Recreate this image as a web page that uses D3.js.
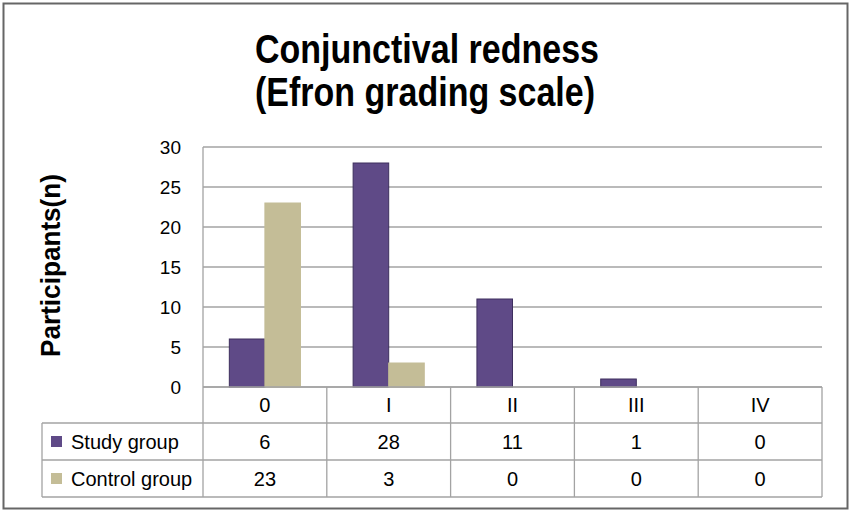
<!DOCTYPE html>
<html>
<head>
<meta charset="utf-8">
<script src="https://cdn.jsdelivr.net/npm/d3@7"></script>
<style>
  body { margin: 0; background: #fff; }
  text { font-family: "Liberation Sans", Arial, sans-serif; fill: #000; }
</style>
</head>
<body>
<svg id="chart" width="851" height="513"></svg>
<script>
// data
const grades = ["0", "I", "II", "III", "IV"];
const groups = ["Study group", "Control group"];
const studyValues = [6, 28, 11, 1, 0];
const controlValues = [23, 3, 0, 0, 0];
const yTicks = [0, 5, 10, 15, 20, 25, 30];
const groupColors = ["#5f4a87", "#c4bd97"];
const groupStrokes = ["#3e2f5e", "#c4bd97"];

const valuesByGroup = [studyValues, controlValues];

const svg = d3.select("#chart");

// outer frame
svg
  .append("rect")
  .attr("x", 3.5)
  .attr("y", 3.5)
  .attr("width", 844)
  .attr("height", 505)
  .attr("fill", "#fff")
  .attr("stroke", "#666")
  .attr("stroke-width", 2);

// title
svg
  .append("text")
  .attr("x", 427)
  .attr("y", 63)
  .attr("text-anchor", "middle")
  .attr("font-size", 41)
  .attr("font-weight", "bold")
  .attr("textLength", 344)
  .attr("lengthAdjust", "spacingAndGlyphs")
  .text("Conjunctival redness");

svg
  .append("text")
  .attr("x", 425)
  .attr("y", 106)
  .attr("text-anchor", "middle")
  .attr("font-size", 41)
  .attr("font-weight", "bold")
  .attr("textLength", 340)
  .attr("lengthAdjust", "spacingAndGlyphs")
  .text("(Efron grading scale)");

const left = 203;
const right = 822;
const x = d3.scaleBand().domain(grades).range([left, right]);
const y = d3.scaleLinear().domain([0, 30]).range([387, 147]);
const xs = d3
  .scaleBand()
  .domain(groups)
  .range([0, x.bandwidth()])
  .paddingInner(0)
  .paddingOuter(0.74);

// gridlines
svg
  .append("g")
  .selectAll("line")
  .data(yTicks)
  .join("line")
  .attr("x1", left)
  .attr("x2", right)
  .attr("y1", (d) => y(d))
  .attr("y2", (d) => y(d))
  .attr("stroke", "#a3a3a3")
  .attr("stroke-width", 1.3);

// y axis line
svg
  .append("line")
  .attr("x1", left)
  .attr("x2", left)
  .attr("y1", y(30))
  .attr("y2", y(0))
  .attr("stroke", "#a3a3a3")
  .attr("stroke-width", 1.3);

// y tick labels
svg
  .append("g")
  .selectAll("text")
  .data(yTicks)
  .join("text")
  .attr("x", 181)
  .attr("y", (d) => y(d))
  .attr("dy", "0.35em")
  .attr("text-anchor", "end")
  .attr("font-size", 19)
  .text((d) => d);

// y title
svg
  .append("text")
  .attr("transform", "translate(60,265.5) rotate(-90)")
  .attr("text-anchor", "middle")
  .attr("font-size", 28)
  .attr("font-weight", "bold")
  .attr("textLength", 183)
  .attr("lengthAdjust", "spacingAndGlyphs")
  .text("Participants(n)");

// bars
groups.forEach((g, gi) => {
  svg
    .append("g")
    .selectAll("rect")
    .data(valuesByGroup[gi].map((v, i) => ({ grade: grades[i], value: v })))
    .join("rect")
    .filter((d) => d.value > 0)
    .attr("x", (d) => x(d.grade) + xs(g))
    .attr("y", (d) => y(d.value))
    .attr("width", xs.bandwidth())
    .attr("height", (d) => y(0) - y(d.value))
    .attr("fill", groupColors[gi])
    .attr("stroke", groupStrokes[gi])
    .attr("stroke-width", 1);
});

// data table
const rowTop = 387;
const rowH = [36, 37, 37];
const tableLeft = 42;
const lineColor = "#a3a3a3";
const table = svg.append("g");

const r1 = rowTop + rowH[0];
const r2 = r1 + rowH[1];
const r3 = r2 + rowH[2];

// horizontal lines
table
  .append("line")
  .attr("x1", left).attr("x2", right)
  .attr("y1", rowTop).attr("y2", rowTop)
  .attr("stroke", lineColor).attr("stroke-width", 1.3);
[r1, r2, r3].forEach((yy) => {
  table
    .append("line")
    .attr("x1", tableLeft).attr("x2", right)
    .attr("y1", yy).attr("y2", yy)
    .attr("stroke", lineColor).attr("stroke-width", 1.3);
});

// vertical lines
table
  .append("line")
  .attr("x1", tableLeft).attr("x2", tableLeft)
  .attr("y1", r1).attr("y2", r3)
  .attr("stroke", lineColor).attr("stroke-width", 1.3);
grades.concat(["end"]).forEach((g) => {
  const xx = g === "end" ? right : x(g);
  table
    .append("line")
    .attr("x1", xx).attr("x2", xx)
    .attr("y1", rowTop).attr("y2", r3)
    .attr("stroke", lineColor).attr("stroke-width", 1.3);
});

// header labels
table
  .selectAll(".hdr")
  .data(grades)
  .join("text")
  .attr("class", "hdr")
  .attr("x", (d) => x(d) + x.bandwidth() / 2)
  .attr("y", rowTop + rowH[0] / 2)
  .attr("dy", "0.35em")
  .attr("text-anchor", "middle")
  .attr("font-size", 20)
  .text((d) => d);

// rows
const rowCenters = [r1 + rowH[1] / 2, r2 + rowH[2] / 2];
groups.forEach((g, gi) => {
  const cy = rowCenters[gi];
  table
    .append("rect")
    .attr("x", 51)
    .attr("y", cy - 5.5)
    .attr("width", 11)
    .attr("height", 11)
    .attr("fill", groupColors[gi]);
  table
    .append("text")
    .attr("x", 71)
    .attr("y", cy)
    .attr("dy", "0.35em")
    .attr("font-size", 20)
    .text(g);
  table
    .selectAll(".val" + gi)
    .data(valuesByGroup[gi])
    .join("text")
    .attr("x", (d, i) => x(grades[i]) + x.bandwidth() / 2)
    .attr("y", cy)
    .attr("dy", "0.35em")
    .attr("text-anchor", "middle")
    .attr("font-size", 20)
    .text((d) => d);
});
</script>
</body>
</html>
